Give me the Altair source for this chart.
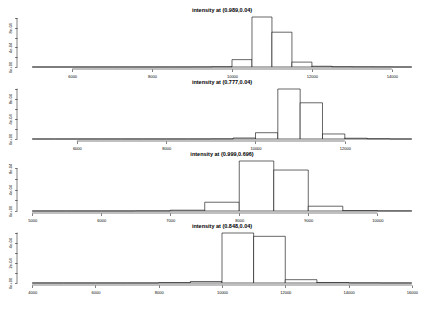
import altair as alt
import pandas as pd

# ---- data (densities in units of 1e-4) ----
titles = [
    "intensity at (0.989,0.04)",
    "intensity at (0.777,0.04)",
    "intensity at (0.999,0.696)",
    "intensity at (0.848,0.04)",
]
bin_first = [5000, 5000, 5000, 4000]
bin_width = [500, 500, 500, 1000]

dens1 = [0, 0, 0, 0, 0, 0, 0, 0, 0.01, 0.05, 1.5, 10.2, 7.1, 1.0, 0.15, 0.05, 0.03, 0.02, 0]
dens2 = [0, 0, 0, 0, 0, 0, 0, 0, 0.02, 0.2, 1.25, 9.94, 7.2, 1.0, 0.15, 0.05, 0]
dens3 = [0, 0, 0, 0.02, 0.15, 1.65, 9.4, 7.7, 0.9, 0.08, 0.02]
dens4 = [0, 0, 0, 0, 0.04, 0.15, 4.96, 4.63, 0.33, 0.05, 0.01, 0]
densities = [dens1, dens2, dens3, dens4]

x_ticks = [
    [6000, 8000, 10000, 12000, 14000],
    [6000, 8000, 10000, 12000],
    [5000, 6000, 7000, 8000, 9000, 10000],
    [4000, 6000, 8000, 10000, 12000, 14000, 16000],
]
y_ticks = [
    [0, 0.0002, 0.0004, 0.0006, 0.0008, 0.001],
    [0, 0.0002, 0.0004, 0.0006, 0.0008, 0.001],
    [0, 0.0002, 0.0004, 0.0006, 0.0008],
    [0, 0.0001, 0.0002, 0.0003, 0.0004, 0.0005],
]
y_labels = [
    ["0e+00", "", "4e-04", "", "8e-04", ""],
    ["0e+00", "", "4e-04", "", "8e-04", ""],
    ["0e+00", "", "4e-04", "", "8e-04"],
    ["0e+00", "", "2e-04", "", "4e-04", ""],
]

W = 410
H = 54
FONT = "Liberation Sans"


def label_expr(vals, labs):
    expr = "''"
    for v, l in reversed(list(zip(vals, labs))):
        expr = f"abs(datum.value - {v}) < 0.000001 ? '{l}' : ({expr})"
    return expr


def panel(i):
    dens = densities[i]
    w = bin_width[i]
    starts = [bin_first[i] + k * w for k in range(len(dens))]
    df = pd.DataFrame({
        "x0": starts,
        "x1": [s + w for s in starts],
        "density": [d * 1e-4 for d in dens],
        "zero": [0.0] * len(dens),
    })
    lo, hi = starts[0], starts[-1] + w
    pad = 0.04 * (hi - lo)
    ymax = max(df["density"])
    xs = alt.Scale(domain=[lo - pad, hi + pad], nice=False, zero=False)
    ys = alt.Scale(domain=[-0.04 * ymax, 1.04 * ymax], nice=False, zero=False)

    ax_x = alt.Axis(
        values=x_ticks[i], format="d", title=None, domain=False, grid=False,
        labelFontSize=4, labelFont=FONT, labelColor="black",
        tickSize=2.5, tickWidth=0.5, tickColor="black", labelPadding=2.5,
        labelFlush=False, labelOverlap=False)
    ax_y = alt.Axis(
        values=y_ticks[i], labelExpr=label_expr(y_ticks[i], y_labels[i]),
        title=None, domain=False, grid=False,
        labelFontSize=4, labelFont=FONT, labelColor="black",
        labelAngle=270, labelAlign="center", labelBaseline="bottom",
        tickSize=2.5, tickWidth=0.5, tickColor="black", labelPadding=2,
        labelFlush=False, labelOverlap=False)

    bars = alt.Chart(df).mark_rect(
        fill="white", stroke="black", strokeWidth=0.6
    ).encode(
        x=alt.X("x0:Q", scale=xs, axis=ax_x),
        x2="x1",
        y=alt.Y("density:Q", scale=ys, axis=ax_y),
        y2="zero",
    )

    xline_df = pd.DataFrame({"x0": [x_ticks[i][0]], "x1": [x_ticks[i][-1]]})
    xline = alt.Chart(xline_df).mark_rule(color="black", strokeWidth=0.5).encode(
        x=alt.X("x0:Q", scale=xs, axis=ax_x), x2="x1", y=alt.value(H)
    )
    yline_df = pd.DataFrame({"density": [0.0], "zero": [y_ticks[i][-1]]})
    yline = alt.Chart(yline_df).mark_rule(color="black", strokeWidth=0.5).encode(
        y=alt.Y("density:Q", scale=ys, axis=ax_y), y2="zero", x=alt.value(0)
    )

    return alt.layer(bars, xline, yline).properties(
        width=W, height=H,
        title=alt.TitleParams(titles[i], fontSize=5.5, fontWeight="bold",
                              font=FONT, offset=1.5, anchor="middle", color="black"),
    )


chart = alt.vconcat(*[panel(i) for i in range(4)], spacing=2).configure_view(
    stroke=None
).properties(padding={"left": 0, "top": 0, "right": 0, "bottom": 0})

chart.save("out.html", embed_options={"renderer": "svg", "actions": False})
